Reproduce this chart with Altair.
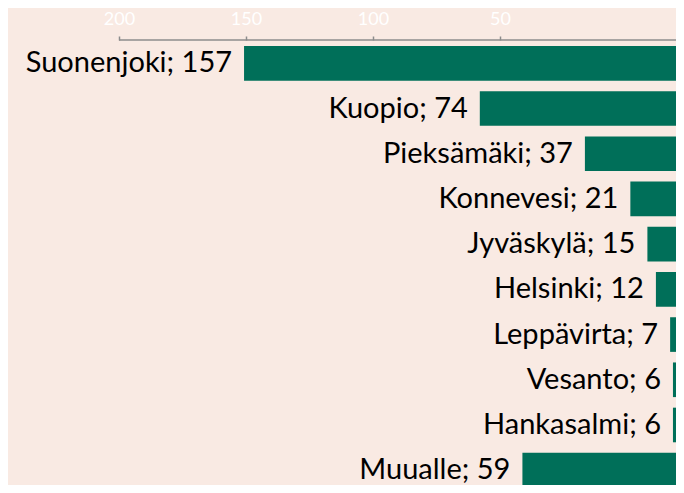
import altair as alt
import pandas as pd

names = ["Suonenjoki", "Kuopio", "Pieksämäki", "Konnevesi", "Jyväskylä",
         "Helsinki", "Leppävirta", "Vesanto", "Hankasalmi", "Muualle"]
values = [157, 74, 37, 21, 15, 12, 7, 6, 6, 59]
axis_ticks = [200, 150, 100, 50]

df = pd.DataFrame({"name": names, "value": values})
df["label"] = [f"{n}; {v}" for n, v in zip(names, values)]

bar_scale = alt.Scale(domain=[4.93, 240.1], reverse=True, nice=False, zero=False)
axis_scale = alt.Scale(domain=[-19.3, 243.7], reverse=True, nice=False, zero=False)
y_enc = alt.Y("name:N", sort=None, axis=None,
              scale=alt.Scale(paddingInner=0.234, paddingOuter=0, range=[6, 447.5]))

bars = alt.Chart(df).mark_bar(color="#006F59", clip=True).encode(
    x=alt.X("value:Q", scale=bar_scale, axis=None),
    x2=alt.datum(0),
    y=y_enc,
)

text = alt.Chart(df).mark_text(align="right", baseline="middle", dx=-12,
                               font="Lato", fontSize=29, color="#000000").encode(
    x=alt.X("value:Q", scale=bar_scale, axis=None),
    y=y_enc,
    text="label:N",
)

axis_df = pd.DataFrame({"a": [axis_ticks[0]], "b": [-19.3]})
rule = alt.Chart(axis_df).mark_rule(color="#8C8C8C", strokeWidth=1.5).encode(
    x=alt.X("a:Q", scale=axis_scale,
            axis=alt.Axis(orient="top", values=axis_ticks, domain=False, grid=False,
                          tickColor="#8C8C8C", tickWidth=1.5, tickSize=4,
                          labelColor="#FFFFFF", labelFont="Lato", labelFontSize=18,
                          labelPadding=8, title=None)),
    x2="b:Q",
    y=alt.value(0),
)

chart = alt.layer(bars, text, rule).resolve_scale(x="independent").properties(
    width=668, height=445,
    autosize=alt.AutoSizeParams(type="none"),
    padding={"top": 32, "left": 0, "right": 0, "bottom": 0},
    background="#F9EAE3",
).configure_view(stroke=None)

chart.save("out.html", embed_options={"renderer": "svg", "actions": False})
